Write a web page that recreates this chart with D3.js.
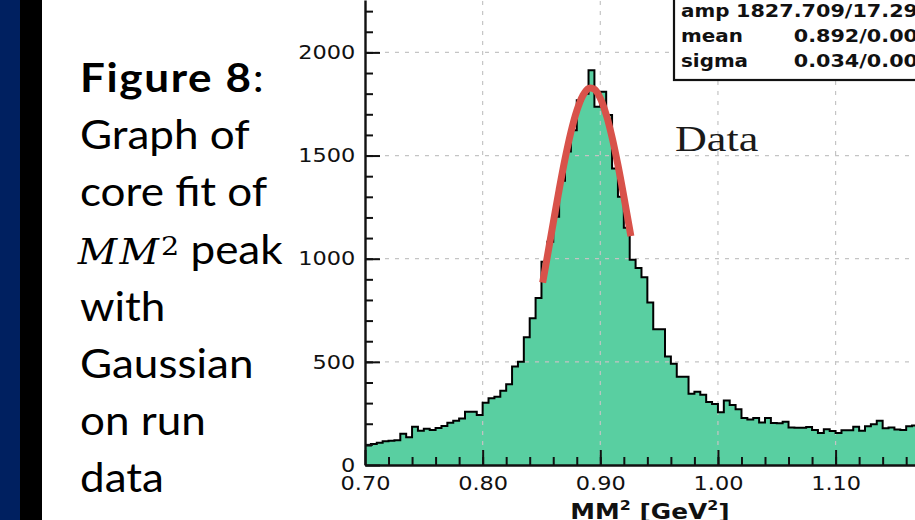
<!DOCTYPE html>
<html>
<head>
<meta charset="utf-8">
<script src="https://cdn.jsdelivr.net/npm/d3@7"></script>
<style>
  body { margin: 0; background: #fff; overflow: hidden; }
  svg { display: block; }
</style>
</head>
<body>
<div id="chart"></div>
<script>
var svgWidth = 915;
var svgHeight = 520;

// MM^2 histogram, bins of 0.005 GeV^2 starting at 0.70
var binStart = 0.70;
var binWidth = 0.005;
var counts = [
  95, 102, 108, 115, 118, 120, 152, 134, 186, 166,
  176, 170, 179, 189, 205, 215, 226, 258, 258, 242,
  302, 323, 331, 360, 392, 477, 501, 619, 711, 810,
  985, 1082, 1203, 1378, 1520, 1623, 1768, 1800, 1914, 1736,
  1809, 1696, 1437, 1300, 1150, 995, 955, 910, 788, 658,
  658, 526, 491, 428, 428, 345, 355, 340, 305, 296,
  256, 313, 291, 270, 228, 221, 228, 206, 228, 204,
  202, 210, 182, 180, 180, 184, 170, 155, 173, 165,
  155, 168, 168, 186, 166, 188, 198, 215, 178, 182,
  172, 170, 188, 192
];

// gaussian core fit
var fitX = [0.851, 0.855, 0.86, 0.865, 0.87, 0.875, 0.88, 0.885, 0.89, 0.895, 0.90, 0.905, 0.91, 0.915, 0.92, 0.926];
var fitY = [884, 1011, 1174, 1334, 1483, 1613, 1717, 1789, 1825, 1821, 1778, 1699, 1589, 1454, 1302, 1109];

// fit results box
var statNames = ["amp", "mean", "sigma"];
var statValues = ["1827.709/17.29", "0.892/0.00", "0.034/0.00"];

var xMajorTicks = [0.70, 0.80, 0.90, 1.00, 1.10];
var yMajorTicks = [0, 500, 1000, 1500, 2000];

var captionLines = ["Figure 8:", "Graph of", "core fit of", "MM² peak", "with", "Gaussian", "on run", "data"];

var svg = d3.select("#chart")
  .append("svg")
  .attr("width", svgWidth)
  .attr("height", svgHeight);

// slide side bars
svg.append("rect").attr("x", 0).attr("y", 0).attr("width", 20).attr("height", svgHeight).attr("fill", "#002060");
svg.append("rect").attr("x", 20).attr("y", 0).attr("width", 22).attr("height", svgHeight).attr("fill", "#000");

// caption on the left (stretched a bit to get close to the slide font)
var caption = svg.append("g")
  .attr("transform", "translate(80,0) scale(1.1,1)")
  .append("text")
  .attr("font-family", "Lato, 'Open Sans', sans-serif")
  .attr("font-size", 40)
  .attr("fill", "#000");

captionLines.forEach(function(t, i) {
  var yy = 92 + i * 57.2;
  if (i === 0) {
    caption.append("tspan").attr("x", 0).attr("y", yy).attr("font-weight", "bold")
      .attr("letter-spacing", 1.5).text(t.replace(":", ""));
    caption.append("tspan").text(":");
  } else if (t.indexOf("MM²") === 0) {
    caption.append("tspan").attr("x", -2).attr("y", yy)
      .attr("font-family", "'DejaVu Serif', serif").attr("font-style", "italic")
      .attr("font-size", 35).attr("letter-spacing", 2).text("MM");
    caption.append("tspan").attr("dy", -9).attr("font-family", "'DejaVu Serif', serif")
      .attr("font-size", 26).text("2");
    caption.append("tspan").attr("dy", 9).text(t.replace("MM²", ""));
  } else {
    caption.append("tspan").attr("x", 0).attr("y", yy).text(t);
  }
});

// chart scales
var xScale = d3.scaleLinear().domain([0.70, 1.1675]).range([365, 915]);
var yScale = d3.scaleLinear().domain([0, 2254]).range([465, 0]);

var chartGroup = svg.append("g");

var steps = counts.map(function(c, i) { return { x0: binStart + i * binWidth, n: c }; });
steps.push({ x0: binStart + counts.length * binWidth, n: counts[counts.length - 1] });

var area = d3.area()
  .curve(d3.curveStepAfter)
  .x(function(d) { return xScale(d.x0); })
  .y0(yScale(0))
  .y1(function(d) { return yScale(d.n); });

var outline = d3.line()
  .curve(d3.curveStepAfter)
  .x(function(d) { return xScale(d.x0); })
  .y(function(d) { return yScale(d.n); });

chartGroup.append("path")
  .datum(steps)
  .attr("d", area)
  .attr("fill", "#59cfa1");

// dashed grid
chartGroup.selectAll(".vgrid")
  .data(xMajorTicks.slice(1))
  .enter()
  .append("line")
  .attr("x1", d => xScale(d)).attr("x2", d => xScale(d))
  .attr("y1", yScale(0)).attr("y2", 0)
  .attr("stroke", "#c4c4c4").attr("stroke-width", 1.2).attr("stroke-dasharray", "4,6");

chartGroup.selectAll(".hgrid")
  .data(yMajorTicks.slice(1))
  .enter()
  .append("line")
  .attr("x1", xScale(0.70)).attr("x2", svgWidth)
  .attr("y1", d => yScale(d)).attr("y2", d => yScale(d))
  .attr("stroke", "#c4c4c4").attr("stroke-width", 1.2).attr("stroke-dasharray", "4,6");

chartGroup.append("path")
  .datum(steps)
  .attr("d", outline)
  .attr("fill", "none")
  .attr("stroke", "#000")
  .attr("stroke-width", 2);

// fit curve
var fitLine = d3.line()
  .curve(d3.curveCatmullRom)
  .x(function(d, i) { return xScale(fitX[i]); })
  .y(function(d) { return yScale(d); });

chartGroup.append("path")
  .datum(fitY)
  .attr("d", fitLine)
  .attr("fill", "none")
  .attr("stroke", "#d8524a")
  .attr("stroke-width", 7);

// axes, ticks pointing inward
var axisFont = "'DejaVu Sans', sans-serif";

var xAxis = d3.axisBottom(xScale)
  .tickValues(xMajorTicks)
  .tickFormat(d3.format(".2f"))
  .tickSizeInner(-15)
  .tickSizeOuter(0)
  .tickPadding(11.5);

var yAxis = d3.axisLeft(yScale)
  .tickValues(yMajorTicks)
  .tickFormat(d3.format("d"))
  .tickSizeInner(-15)
  .tickSizeOuter(0)
  .tickPadding(8.5);

var xMinor = d3.axisBottom(xScale)
  .tickValues(d3.range(0.72, 1.17, 0.02))
  .tickFormat("")
  .tickSizeInner(-8)
  .tickSizeOuter(0);

var yMinor = d3.axisLeft(yScale)
  .tickValues(d3.range(100, 2254, 100))
  .tickFormat("")
  .tickSizeInner(-8)
  .tickSizeOuter(0);

var xm = chartGroup.append("g").attr("transform", `translate(0, ${yScale(0)})`).call(xMinor);
var ym = chartGroup.append("g").attr("transform", `translate(${xScale(0.70)}, 0)`).call(yMinor);
xm.select(".domain").remove();
ym.select(".domain").remove();

var xa = chartGroup.append("g").attr("transform", `translate(0, ${yScale(0)})`).call(xAxis);
var ya = chartGroup.append("g").attr("transform", `translate(${xScale(0.70)}, 0)`).call(yAxis);

chartGroup.selectAll(".tick line").attr("stroke", "#111").attr("stroke-width", 2);
chartGroup.selectAll(".domain").attr("stroke", "#111").attr("stroke-width", 2.4);
chartGroup.selectAll(".tick text")
  .attr("font-family", axisFont)
  .attr("font-size", 19.5)
  .attr("fill", "#111")
  .attr("transform", "scale(1.15,1)");

// x label
svg.append("text")
  .attr("transform", "translate(650,519) scale(1.13,1)")
  .attr("text-anchor", "middle")
  .attr("font-family", axisFont)
  .attr("font-weight", "bold")
  .attr("font-size", 22)
  .attr("fill", "#111")
  .call(function(t) {
    t.append("tspan").text("MM");
    t.append("tspan").attr("dy", -9).attr("font-size", 14).text("2");
    t.append("tspan").attr("dy", 9).text(" [GeV");
    t.append("tspan").attr("dy", -9).attr("font-size", 14).text("2");
    t.append("tspan").attr("dy", 9).text("]");
  });

// fit results box
svg.append("rect")
  .attr("x", 674).attr("y", -10)
  .attr("width", 300).attr("height", 90)
  .attr("fill", "#fff")
  .attr("stroke", "#111")
  .attr("stroke-width", 2.2);

statNames.forEach(function(name, i) {
  svg.append("text")
    .attr("transform", `translate(681, ${17 + i * 25}) scale(1.17,1)`)
    .attr("font-family", axisFont).attr("font-weight", "bold").attr("font-size", 17)
    .attr("fill", "#111")
    .text(name);
  svg.append("text")
    .attr("transform", `translate(918, ${17 + i * 25}) scale(1.22,1)`)
    .attr("text-anchor", "end")
    .attr("font-family", axisFont).attr("font-weight", "bold").attr("font-size", 17)
    .attr("fill", "#111")
    .text(statValues[i]);
});

// series label
svg.append("text")
  .attr("transform", "translate(675,150.5) scale(1.26,1)")
  .attr("font-family", "'Liberation Serif', serif")
  .attr("font-size", 35)
  .attr("fill", "#1a1a1a")
  .text("Data");
</script>
</body>
</html>
